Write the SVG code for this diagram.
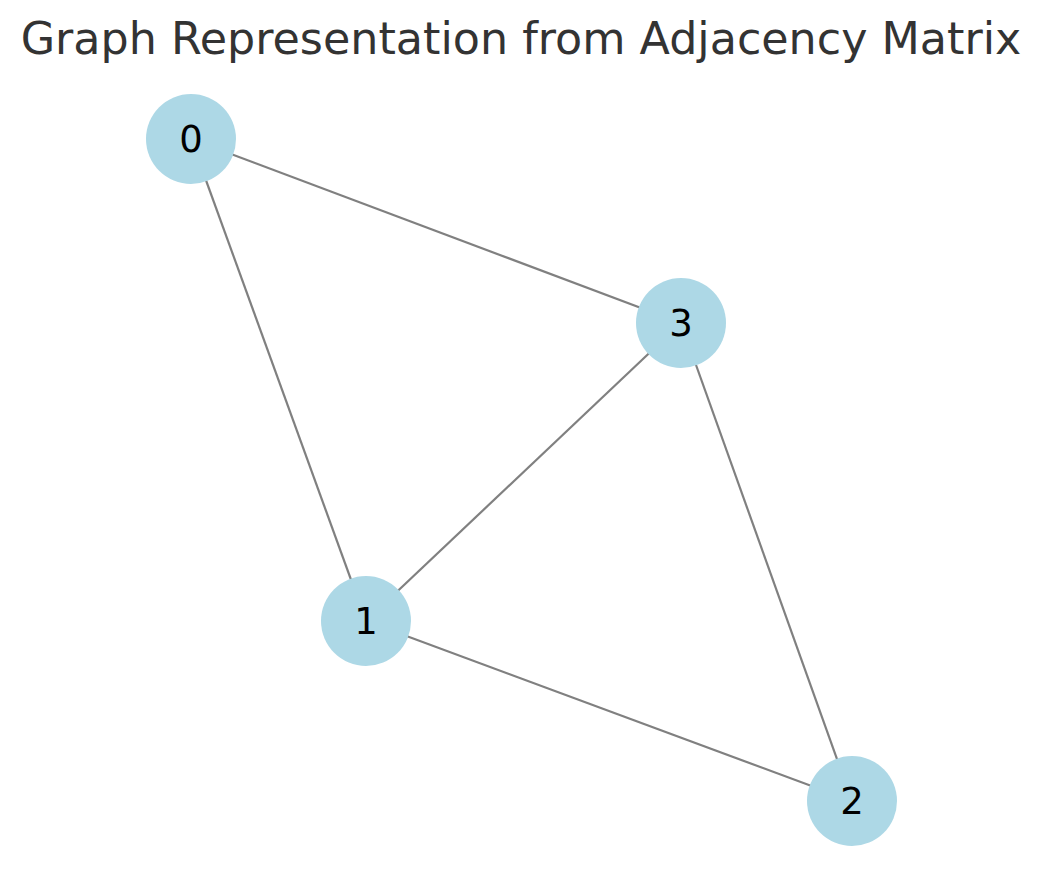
<svg xmlns="http://www.w3.org/2000/svg" width="1043" height="890" viewBox="0 0 1043 890">
<style>
.title{font-family:"DejaVu Sans",sans-serif;font-size:44.4px;fill:#333333}
.node circle{fill:#add8e6}
.node text{font-family:"DejaVu Sans",sans-serif;font-size:37px;fill:#000000;text-anchor:middle;dominant-baseline:central}
.edges line{stroke:#808080;stroke-width:2.2}
</style>
<rect width="1043" height="890" fill="#ffffff"/>
<text class="title" x="521" y="54" text-anchor="middle">Graph Representation from Adjacency Matrix</text>
<g id="edges" class="edges">
<line x1="191" y1="139" x2="681" y2="323"/>
<line x1="191" y1="139" x2="366" y2="621"/>
<line x1="681" y1="323" x2="366" y2="621"/>
<line x1="681" y1="323" x2="852" y2="801"/>
<line x1="366" y1="621" x2="852" y2="801"/>
</g>
<g id="node0" class="node"><circle cx="191" cy="139" r="45"/><text x="191" y="139">0</text></g>
<g id="node1" class="node"><circle cx="366" cy="621" r="45"/><text x="366" y="621">1</text></g>
<g id="node2" class="node"><circle cx="852" cy="801" r="45"/><text x="852" y="801">2</text></g>
<g id="node3" class="node"><circle cx="681" cy="323" r="45"/><text x="681" y="323">3</text></g>
</svg>
